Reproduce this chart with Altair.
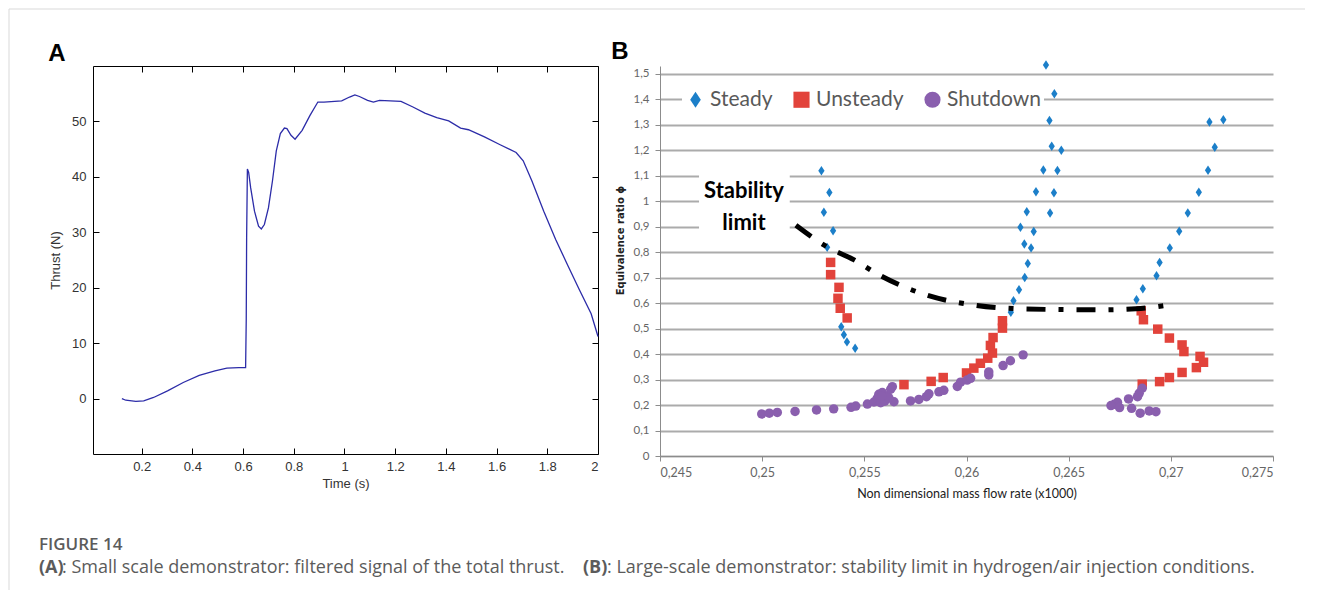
import altair as alt
import pandas as pd

# ---------------- Panel A data: filtered total thrust ----------------
time_s = [0.122, 0.1375, 0.177, 0.208, 0.247, 0.302, 0.364, 0.427, 0.489, 0.536,
          0.583, 0.606, 0.610, 0.6125, 0.614, 0.617, 0.622, 0.630, 0.645, 0.661,
          0.672, 0.684, 0.700, 0.716, 0.731, 0.747, 0.763, 0.773, 0.789, 0.805,
          0.833, 0.864, 0.895, 0.919, 0.989, 1.020, 1.041, 1.059, 1.091, 1.114,
          1.138, 1.223, 1.270, 1.317, 1.364, 1.411, 1.458, 1.489, 1.552, 1.614,
          1.677, 1.705, 1.739, 1.786, 1.833, 1.880, 1.927, 1.973, 2.0]
thrust_n = [0.0, -0.3, -0.5, -0.4, 0.2, 1.4, 2.9, 4.2, 5.0, 5.5,
            5.6, 5.6, 5.6, 14.4, 29.0, 41.4, 40.8, 38.0, 33.8, 31.1,
            30.6, 31.4, 34.4, 39.3, 44.7, 47.8, 48.8, 48.7, 47.5, 46.8,
            48.4, 51.1, 53.5, 53.5, 53.7, 54.4, 54.8, 54.5, 53.8, 53.5,
            53.8, 53.6, 52.6, 51.5, 50.7, 50.1, 48.8, 48.5, 47.2, 45.8,
            44.4, 42.9, 39.3, 33.8, 28.7, 24.1, 19.6, 15.3, 11.2]
a_x_ticks = [0.2, 0.4, 0.6, 0.8, 1, 1.2, 1.4, 1.6, 1.8, 2]
a_y_ticks = [0, 10, 20, 30, 40, 50]

# ---------------- Panel B data: stability map ----------------
steady_x = [0.25290, 0.25329, 0.25302, 0.25347, 0.25318, 0.25387, 0.25400, 0.25415, 0.25455,
            0.26389, 0.26430, 0.26406, 0.26417, 0.26464, 0.26376, 0.26445, 0.26340, 0.26428,
            0.26295, 0.26409, 0.26264, 0.26329, 0.26283, 0.26316, 0.26300, 0.26285, 0.26257,
            0.26230, 0.26217,
            0.27257, 0.27189, 0.27215, 0.27182, 0.27137, 0.27083, 0.27041, 0.26995, 0.26945,
            0.26930, 0.26863, 0.26832]
steady_y = [1.120, 1.034, 0.957, 0.884, 0.819, 0.507, 0.476, 0.448, 0.423,
            1.535, 1.422, 1.317, 1.216, 1.200, 1.123, 1.121, 1.037, 1.033,
            0.959, 0.954, 0.898, 0.881, 0.832, 0.817, 0.756, 0.701, 0.653,
            0.609, 0.564,
            1.320, 1.311, 1.212, 1.122, 1.035, 0.954, 0.882, 0.817, 0.760,
            0.708, 0.657, 0.613]

unsteady_x = [0.25335, 0.25335, 0.25376, 0.25371, 0.25382, 0.25416,
              0.25694, 0.25827, 0.25886, 0.26000, 0.26036, 0.26068, 0.26104, 0.26127,
              0.26117, 0.26130, 0.26176, 0.26176,
              0.26855, 0.26866, 0.26936, 0.26993, 0.27055, 0.27064, 0.27143, 0.27160,
              0.27125, 0.27055, 0.26993, 0.26945, 0.26860]
unsteady_y = [0.760, 0.712, 0.662, 0.619, 0.580, 0.542,
              0.280, 0.293, 0.308, 0.326, 0.345, 0.364, 0.384, 0.404,
              0.434, 0.465, 0.502, 0.531,
              0.570, 0.535, 0.498, 0.463, 0.436, 0.410, 0.391, 0.368,
              0.347, 0.328, 0.308, 0.292, 0.282]

shutdown_x = [0.24998, 0.25035, 0.25074, 0.25161, 0.25266, 0.25350, 0.25435, 0.25458,
              0.25515, 0.25547, 0.25563, 0.25571, 0.25588, 0.25596, 0.25612, 0.25629,
              0.25637, 0.25580, 0.25645, 0.25600, 0.25620, 0.25585,
              0.25726, 0.25767, 0.25804, 0.25816, 0.25865, 0.25889, 0.25955, 0.25971,
              0.26003, 0.26020, 0.26109, 0.26109, 0.26179, 0.26215, 0.26277,
              0.26860, 0.26845, 0.26837, 0.26793, 0.26739, 0.26723, 0.26707, 0.26749,
              0.26808, 0.26850, 0.26894, 0.26927]
shutdown_y = [0.165, 0.168, 0.171, 0.175, 0.181, 0.185, 0.191, 0.196,
              0.204, 0.212, 0.226, 0.242, 0.249, 0.223, 0.236, 0.262,
              0.272, 0.209, 0.213, 0.215, 0.228, 0.235,
              0.216, 0.222, 0.233, 0.244, 0.252, 0.258, 0.273, 0.290,
              0.298, 0.305, 0.318, 0.330, 0.355, 0.374, 0.397,
              0.266, 0.246, 0.233, 0.224, 0.211, 0.203, 0.198, 0.190,
              0.187, 0.168, 0.177, 0.174]

limit_x = [0.25165, 0.2532, 0.2545, 0.25565, 0.2580, 0.2605, 0.2625, 0.2645, 0.2665, 0.2683, 0.2700]
limit_y = [0.906, 0.820, 0.770, 0.714, 0.633, 0.591, 0.578, 0.575, 0.574, 0.578, 0.594]

b_x_ticks = [0.245, 0.25, 0.255, 0.26, 0.265, 0.27, 0.275]
b_y_ticks = [0, 0.1, 0.2, 0.3, 0.4, 0.5, 0.6, 0.7, 0.8, 0.9, 1.0, 1.1, 1.2, 1.3, 1.4, 1.5]
states = ["Steady", "Unsteady", "Shutdown"]
state_colors = ["#1c7fc9", "#e2433b", "#8a5fae"]

note_lines = ["Stability", "limit"]
note_x = [0.24911, 0.24911]
note_y = [1.040, 0.915]
note_box = {"x": 0.24691, "x2": 0.25135, "y": 0.855, "y2": 1.135}

caption_title = "FIGURE 14"
caption_parts = ["(A)", ": Small scale demonstrator: filtered signal of the total thrust.",
                 "(B)", ": Large-scale demonstrator: stability limit in hydrogen/air injection conditions."]

# ---------------- build Panel A ----------------
dfA = pd.DataFrame({"time": time_s, "thrust": thrust_n})
WA, HA = 505, 388
SANS = "Liberation Sans"
CAL = "Lato"
CAP = "Open Sans"

xsA = alt.Scale(domain=[0.008, 2], nice=False, zero=False)
ysA = alt.Scale(domain=[-10, 60], nice=False, zero=False)

lab = dict(labelFont=SANS, labelFontSize=13, labelColor="#333333",
           titleFont=SANS, titleFontSize=13, titleColor="#333333", titleFontWeight="normal")


def a_line(xaxis, yaxis, opacity):
    return alt.Chart(dfA).mark_line(color="#2c2ca8", strokeWidth=1.3, opacity=opacity).encode(
        x=alt.X("time:Q", scale=xsA, axis=xaxis),
        y=alt.Y("thrust:Q", scale=ysA, axis=yaxis),
    )


a_main = a_line(
    alt.Axis(orient="bottom", values=a_x_ticks, format="~g", ticks=False, grid=False,
             domainColor="black", labelPadding=6, title="Time (s)", titlePadding=4, **lab),
    alt.Axis(orient="left", values=a_y_ticks, ticks=False, grid=False, domainColor="black",
             labelPadding=7, title="Thrust (N)", titlePadding=9, **lab),
    1.0,
)
a_in1 = a_line(
    alt.Axis(orient="top", offset=-HA, values=a_x_ticks, labels=False, domain=False,
             tickColor="black", tickSize=6, grid=False, title=None),
    alt.Axis(orient="right", offset=-WA, values=a_y_ticks, labels=False, domain=False,
             tickColor="black", tickSize=6, grid=False, title=None),
    0.0,
)
a_in2 = a_line(
    alt.Axis(orient="bottom", offset=-HA, values=a_x_ticks, labels=False, domain=True,
             domainColor="black", tickColor="black", tickSize=6, grid=False, title=None),
    alt.Axis(orient="left", offset=-WA, values=a_y_ticks, labels=False, domain=True,
             domainColor="black", tickColor="black", tickSize=6, grid=False, title=None),
    0.0,
)

one = alt.Data(values=[{}])
panel_label_a = alt.Chart(one).mark_text(
    text="A", font=SANS, fontSize=24, fontWeight="bold", color="black",
    align="center", baseline="middle").encode(x=alt.value(-36), y=alt.value(-12))

frame_top = alt.Chart(one).mark_rule(color="#d9d9d9", strokeWidth=1).encode(
    x=alt.value(-84), x2=alt.value(1212), y=alt.value(-57))
frame_left = alt.Chart(one).mark_rule(color="#d9d9d9", strokeWidth=1).encode(
    x=alt.value(-84), y=alt.value(-57), y2=alt.value(524))

cap_title = alt.Chart(one).mark_text(
    text=caption_title, font=CAP, fontSize=17, fontWeight=600, color="#5b5b5b",
    align="left", baseline="alphabetic").encode(x=alt.value(-54), y=alt.value(484))
cap_xs = [-54, -31, 490, 514]
cap_layers = []
for i, part in enumerate(caption_parts):
    cap_layers.append(alt.Chart(one).mark_text(
        text=part, font=CAP, fontSize=18, fontWeight="bold" if i % 2 == 0 else "normal",
        color="#5b5b5b", align="left", baseline="alphabetic").encode(
        x=alt.value(cap_xs[i]), y=alt.value(507)))

panelA = alt.layer(frame_top, frame_left, a_main, a_in1, a_in2, panel_label_a, cap_title,
                   *cap_layers).resolve_axis(x="independent", y="independent").properties(
    width=WA, height=HA)

# ---------------- build Panel B ----------------
WB, HB = 613, 390
rows = []
for s, xs, ys in [("Steady", steady_x, steady_y), ("Unsteady", unsteady_x, unsteady_y),
                  ("Shutdown", shutdown_x, shutdown_y)]:
    for xv, yv in zip(xs, ys):
        rows.append({"state": s, "mfr": xv, "phi": yv})
dfB = pd.DataFrame(rows)

xsB = alt.Scale(domain=[0.245, 0.275], nice=False, zero=False)
ysB = alt.Scale(domain=[0, 1.531], nice=False, zero=False)

xaxisB = alt.Axis(values=b_x_ticks, labelExpr="replace(format(datum.value, '.3~f'), '.', ',')",
                  grid=False, domainColor="#8c8c8c", tickColor="#8c8c8c", tickSize=5,
                  labelFont=CAL, labelFontSize=12.5, labelColor="#666666", labelPadding=5,
                  labelOverlap=False,
                  title="Non dimensional mass flow rate (x1000)", titleFont=CAL,
                  titleFontSize=12.5, titleFontWeight="normal", titleColor="#222222",
                  titlePadding=9)
yaxisB = alt.Axis(values=b_y_ticks, labelExpr="replace(format(datum.value, '.1~f'), '.', ',')",
                  grid=True, gridColor="#ababab", gridWidth=2, domainColor="#8c8c8c",
                  tickColor="#8c8c8c", tickSize=5, labelFont=CAL, labelFontSize=11.5,
                  labelColor="#666666", labelPadding=6, labelOverlap=False,
                  title="Equivalence ratio ϕ", titleFont="DejaVu Sans", titleFontSize=10,
                  titleFontWeight="bold", titleColor="#222222", titlePadding=8, titleY=174)


def bx(field):
    return alt.X(field, scale=xsB, axis=xaxisB)


def by(field):
    return alt.Y(field, scale=ysB, axis=yaxisB)


diamond = "M0,-1L0.66,0L0,1L-0.66,0Z"
leg = alt.Legend(orient="none", legendX=22, legendY=20, direction="horizontal", title=None,
                 labelFont=CAL, labelFontSize=21, labelColor="#595959", symbolSize=260,
                 symbolStrokeWidth=0, fillColor="white", padding=3, columnPadding=18,
                 labelOffset=4, labelOverlap=False)

points = alt.Chart(dfB).mark_point(filled=True, opacity=1, size=90).encode(
    x=bx("mfr:Q"),
    y=by("phi:Q"),
    color=alt.Color("state:N", scale=alt.Scale(domain=states, range=state_colors), legend=leg),
    shape=alt.Shape("state:N", scale=alt.Scale(domain=states, range=[diamond, "square", "circle"]),
                    legend=leg),
)

box = alt.Chart(alt.Data(values=[note_box])).mark_rect(color="white").encode(
    x=bx("x:Q"), x2="x2:Q", y=by("y:Q"), y2="y2:Q")
dfNote = pd.DataFrame({"t": note_lines, "x": note_x, "y": note_y})
note = alt.Chart(dfNote).mark_text(font=CAL, fontSize=22, fontWeight="bold", color="black").encode(
    x=bx("x:Q"), y=by("y:Q"), text="t:N")
dfLim = pd.DataFrame({"x": limit_x, "y": limit_y})
limit = alt.Chart(dfLim).mark_line(color="black", strokeWidth=5, strokeDash=[19, 13, 5, 13],
                                   strokeCap="butt", interpolate="monotone").encode(
    x=bx("x:Q"), y=by("y:Q"))

panel_label_b = alt.Chart(one).mark_text(
    text="B", font=SANS, fontSize=24, fontWeight="bold", color="black",
    align="center", baseline="middle").encode(x=alt.value(-40), y=alt.value(-14))

panelB = alt.layer(points, box, note, limit, panel_label_b).properties(width=WB, height=HB)

chart = alt.hconcat(panelA, panelB, spacing=62, bounds="flush").resolve_legend(
    color="independent", shape="independent").resolve_scale(
    color="independent", shape="independent").properties(
    padding=0).configure_view(strokeWidth=0)

chart.save("out.html", embed_options={"renderer": "svg", "actions": False})
